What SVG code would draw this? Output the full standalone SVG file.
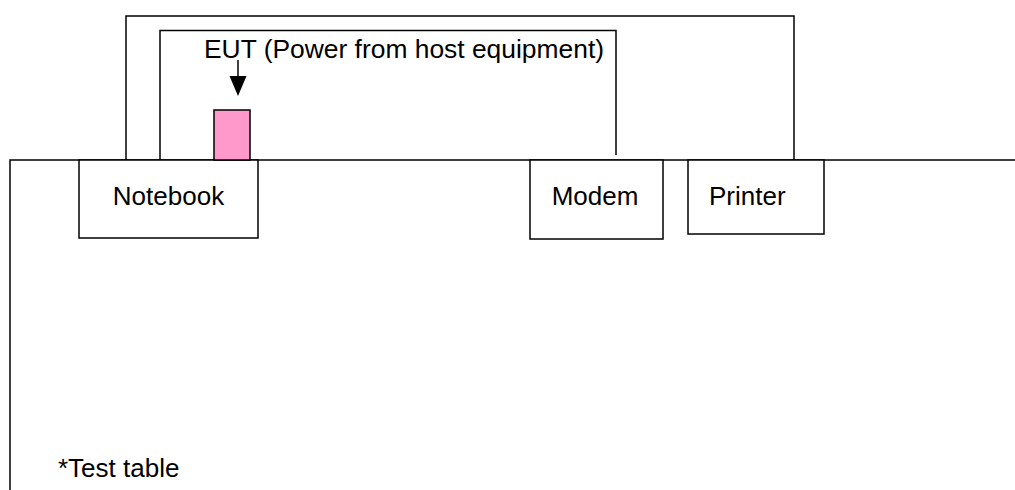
<svg xmlns="http://www.w3.org/2000/svg" width="1015" height="490" viewBox="0 0 1015 490">
<style>
.ln{fill:none;stroke:#000;stroke-width:1.5}
.box{fill:#fff;stroke:#000;stroke-width:1.5}
.t{font-family:"Liberation Sans",Arial,sans-serif;font-size:26px;fill:#000}
</style>
<rect width="1015" height="490" fill="#fff"/>
<g id="table">
<path class="ln" d="M10,490 V160 H1015"/>
<text class="t" x="58" y="477">*Test table</text>
</g>
<g id="connectors">
<path class="ln" d="M126,160 V16 H794 V160"/>
<path class="ln" d="M160,160 V30.5 H616 V155"/>
<line class="ln" x1="238" y1="60" x2="238" y2="78"/>
<polygon points="229.5,76 246.5,76 238,96" fill="#000"/>
</g>
<g id="notebook">
<rect class="box" x="79" y="160" width="179" height="78"/>
<text class="t" x="168.5" y="205" text-anchor="middle">Notebook</text>
</g>
<g id="eut">
<rect class="box" x="214" y="110" width="36" height="50" style="fill:#FF99CC"/>
<text class="t" x="204" y="58" textLength="400" lengthAdjust="spacingAndGlyphs">EUT (Power from host equipment)</text>
</g>
<g id="modem">
<rect class="box" x="530" y="160" width="133" height="79"/>
<text class="t" x="595" y="205" text-anchor="middle">Modem</text>
</g>
<g id="printer">
<rect class="box" x="688" y="160" width="136" height="74"/>
<text class="t" x="709" y="205">Printer</text>
</g>
</svg>
